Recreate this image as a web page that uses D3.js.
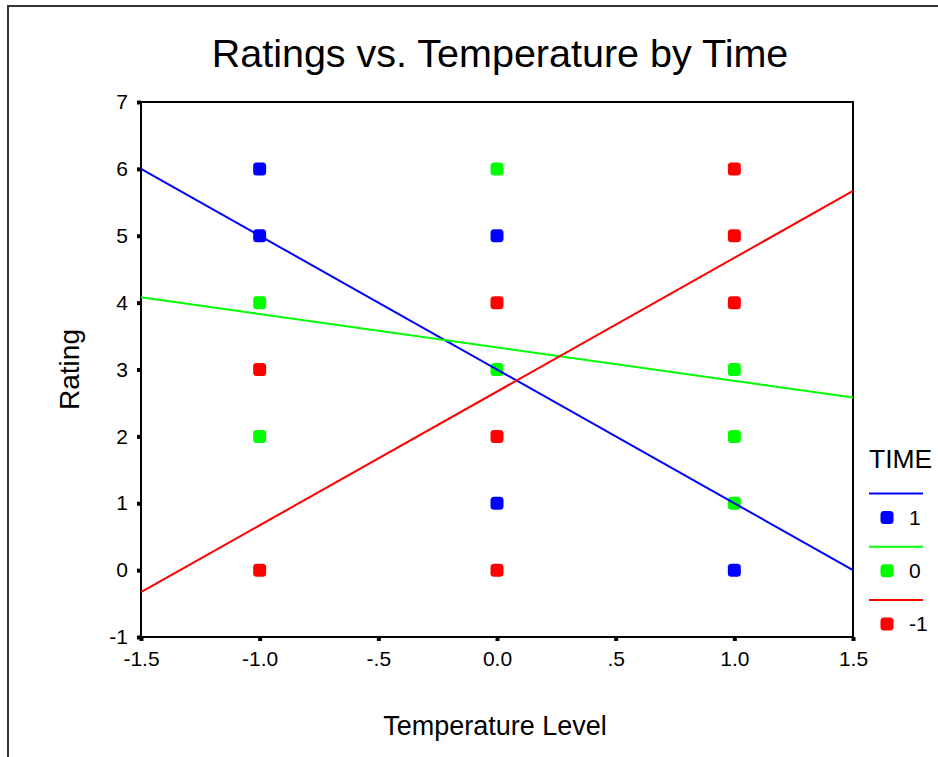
<!DOCTYPE html>
<html>
<head>
<meta charset="utf-8">
<script src="https://cdn.jsdelivr.net/npm/d3@7"></script>
<style>
  body { margin: 0; background: #fff; }
  text { font-family: "Liberation Sans", Arial, sans-serif; fill: #000; }
</style>
</head>
<body>
<div id="chart"></div>
<script>
// data
var timeLevels = ["1", "0", "-1"];
var timeColors = ["#0000ff", "#00ff00", "#ff0000"];

var time1Temp = [-1, -1, 0, 0, 1];
var time1Rating = [6, 5, 5, 1, 0];
var time0Temp = [-1, -1, 0, 0, 1, 1, 1];
var time0Rating = [4, 2, 6, 3, 3, 2, 1];
var timeM1Temp = [-1, -1, 0, 0, 0, 1, 1, 1];
var timeM1Rating = [3, 0, 4, 2, 0, 6, 5, 4];

// fit lines, rating at temperature -1.5 and 1.5
var fitTemp = [-1.5, 1.5];
var fitStart = [6.0, 4.08, -0.33];
var fitEnd = [0.0, 2.58, 5.67];

var xTicks = [-1.5, -1.0, -0.5, 0.0, 0.5, 1.0, 1.5];
var xTickLabels = ["-1.5", "-1.0", "-.5", "0.0", ".5", "1.0", "1.5"];
var yTicks = [-1, 0, 1, 2, 3, 4, 5, 6, 7];
var yTickLabels = ["-1", "0", "1", "2", "3", "4", "5", "6", "7"];

function createChart() {
  var w = 938, h = 757;
  var plot = {left: 141, right: 853, top: 102, bottom: 637};

  var svg = d3.select("#chart")
    .append("svg")
    .attr("width", w)
    .attr("height", h);

  // outer frame (runs off the right and bottom edges)
  svg.append("rect")
    .attr("x", 8)
    .attr("y", 6)
    .attr("width", w + 20)
    .attr("height", h + 20)
    .attr("fill", "none")
    .attr("stroke", "#333")
    .attr("stroke-width", 2);

  var x = d3.scaleLinear()
    .domain([-1.5, 1.5])
    .range([plot.left, plot.right]);
  var y = d3.scaleLinear()
    .domain([-1, 7])
    .range([plot.bottom, plot.top]);

  svg.append("text")
    .attr("x", 500)
    .attr("y", 67)
    .attr("text-anchor", "middle")
    .style("font-size", "39.5px")
    .text("Ratings vs. Temperature by Time");

  var xAxis = d3.axisBottom(x)
    .tickValues(xTicks)
    .tickFormat(function(d, i) { return xTickLabels[i]; })
    .tickSizeInner(4)
    .tickSizeOuter(0)
    .tickPadding(10);
  var yAxis = d3.axisLeft(y)
    .tickValues(yTicks)
    .tickFormat(function(d, i) { return yTickLabels[i]; })
    .tickSizeInner(4)
    .tickSizeOuter(0)
    .tickPadding(9);

  var gx = svg.append("g")
    .attr("transform", "translate(0," + plot.bottom + ")")
    .call(xAxis);
  var gy = svg.append("g")
    .attr("transform", "translate(" + plot.left + ",0)")
    .call(yAxis);

  [gx, gy].forEach(function(g) {
    g.attr("font-size", null).attr("font-family", null);
    g.select(".domain").remove();
    g.selectAll(".tick line").attr("stroke", "#000").attr("stroke-width", 4);
    g.selectAll(".tick text")
      .style("font-size", "21px")
      .attr("fill", "#000");
  });

  // plot box
  svg.append("rect")
    .attr("x", plot.left)
    .attr("y", plot.top)
    .attr("width", plot.right - plot.left)
    .attr("height", plot.bottom - plot.top)
    .attr("fill", "none")
    .attr("stroke", "#000")
    .attr("stroke-width", 2);

  svg.append("text")
    .attr("transform", "translate(79," + ((plot.top + plot.bottom) / 2) + ")rotate(-90)")
    .attr("text-anchor", "middle")
    .style("font-size", "28px")
    .text("Rating");

  svg.append("text")
    .attr("x", 495)
    .attr("y", 735)
    .attr("text-anchor", "middle")
    .style("font-size", "27px")
    .text("Temperature Level");

  var series = [
    {temp: time1Temp, rating: time1Rating},
    {temp: time0Temp, rating: time0Rating},
    {temp: timeM1Temp, rating: timeM1Rating}
  ];

  var pts = svg.append("g");
  // draw -1 first so time 1 ends on top
  [2, 1, 0].forEach(function(s) {
    var d = series[s].temp.map(function(t, i) { return [t, series[s].rating[i]]; });
    pts.selectAll(".p" + s)
      .data(d)
      .enter()
      .append("rect")
      .attr("class", "p" + s)
      .attr("x", function(p) { return x(p[0]) - 6.5; })
      .attr("y", function(p) { return y(p[1]) - 6.5; })
      .attr("width", 13)
      .attr("height", 13)
      .attr("rx", 3.5)
      .attr("fill", timeColors[s]);
  });

  var line = d3.line()
    .x(function(d) { return x(d[0]); })
    .y(function(d) { return y(d[1]); });

  timeLevels.forEach(function(lvl, s) {
    svg.append("path")
      .datum([[fitTemp[0], fitStart[s]], [fitTemp[1], fitEnd[s]]])
      .attr("d", line)
      .attr("fill", "none")
      .attr("stroke", timeColors[s])
      .attr("stroke-width", 2);
  });

  // legend
  var legend = svg.append("g");
  legend.append("text")
    .attr("x", 869)
    .attr("y", 468)
    .style("font-size", "26.5px")
    .text("TIME");

  var items = legend.selectAll(".item")
    .data(timeLevels)
    .enter()
    .append("g")
    .attr("class", "item")
    .attr("transform", function(d, i) { return "translate(0," + (493.5 + i * 53.3) + ")"; });
  items.append("line")
    .attr("x1", 869)
    .attr("x2", 923)
    .attr("stroke", function(d, i) { return timeColors[i]; })
    .attr("stroke-width", 2);
  items.append("rect")
    .attr("x", 880.5)
    .attr("y", 17.5)
    .attr("width", 13)
    .attr("height", 13)
    .attr("rx", 3.5)
    .attr("fill", function(d, i) { return timeColors[i]; });
  items.append("text")
    .attr("x", 909)
    .attr("y", 31)
    .style("font-size", "21px")
    .text(function(d) { return d; });
}

createChart();
</script>
</body>
</html>
